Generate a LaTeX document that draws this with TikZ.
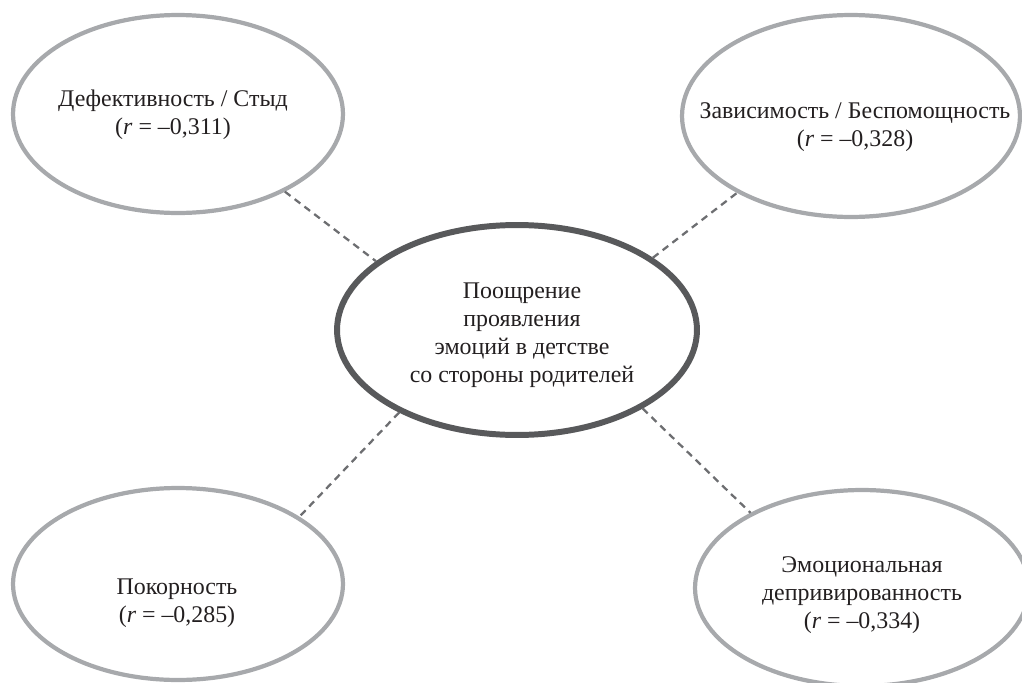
\documentclass[tikz,border=0pt]{standalone}
\usepackage{fontspec}
\setmainfont{Liberation Serif}
\usetikzlibrary{shapes.geometric}
\definecolor{ringgray}{HTML}{A7A9AC}
\definecolor{coregray}{HTML}{58595B}
\definecolor{dashgray}{HTML}{6D6E71}
\definecolor{inkblack}{HTML}{231F20}
\newcommand{\rcoef}[1]{(\textit{r} = –#1)}

\begin{document}
\begin{tikzpicture}[x=0.02cm, y=-0.02cm]
  \tikzset{
    ring/.style={ellipse, draw=ringgray, line width=2.4pt},
    core/.style={ellipse, draw=coregray, line width=3.4pt},
    caption/.style={align=center, inner sep=0pt, text=inkblack,
      font=\fontsize{13.6}{15.9}\selectfont},
    link/.style={draw=dashgray, line width=1.3pt, dash pattern=on 4pt off 3pt}
  }
  \useasboundingbox (0,0) rectangle (1022,683);
  % ellipses
  \node[core, minimum width=7.2cm, minimum height=4.2cm] (E-cen) at (517,330) {};
  \node[ring, minimum width=6.6cm, minimum height=3.96cm] (E-def) at (178,114) {};
  \node[ring, minimum width=6.76cm, minimum height=4.04cm] (E-zav) at (851,116) {};
  \node[ring, minimum width=6.6cm, minimum height=3.84cm] (E-pok) at (178,584) {};
  \node[ring, minimum width=6.68cm, minimum height=3.92cm] (E-emo) at (862,588) {};
  % texts
  \node[caption] (T-cen) at (522,335) {Поощрение\\проявления\\эмоций в детстве\\со стороны родителей};
  \node[caption] (T-def) at (173,115) {Дефективность / Стыд\\\rcoef{0,311}};
  \node[caption] (T-zav) at (855,127) {Зависимость / Беспомощность\\\rcoef{0,328}};
  \node[caption] (T-pok) at (177,603) {Покорность\\\rcoef{0,285}};
  \node[caption] (T-emo) at (862,595) {Эмоциональная\\депривированность\\\rcoef{0,334}};
  % links
  \draw[link] (E-def.-36) -- (E-cen.154);
  \draw[link] (E-cen.28) -- (E-zav.-146);
  \draw[link] (E-cen.-145) -- (E-pok.29);
  \draw[link] (E-cen.-32) -- (E-emo.146);
\end{tikzpicture}
\end{document}
